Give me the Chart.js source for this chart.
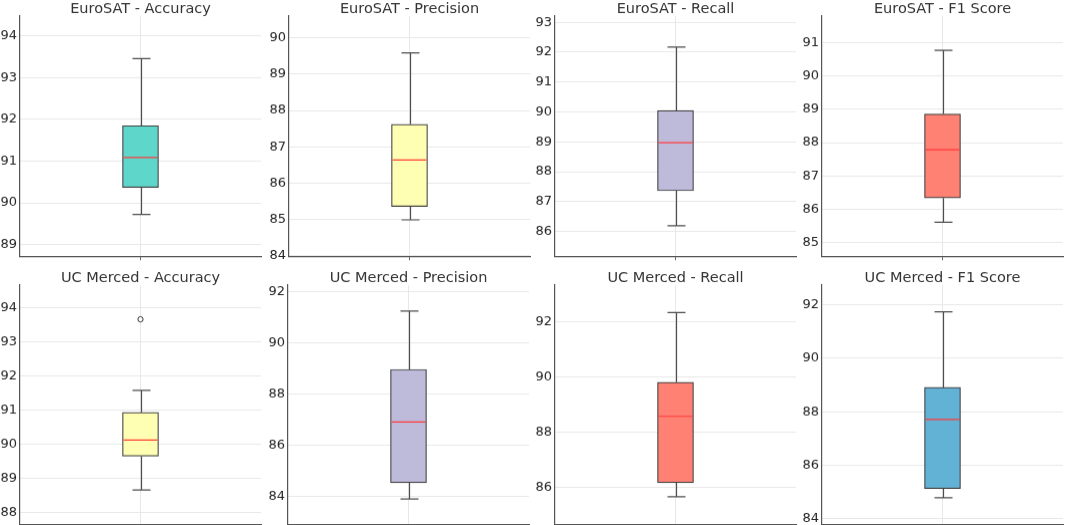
<!DOCTYPE html>
<html><head><meta charset="utf-8">
<script src="https://cdn.jsdelivr.net/npm/chart.js@4.4.0/dist/chart.umd.min.js"></script>
<style>
html,body{margin:0;padding:0;background:#fff;overflow:hidden;width:1065px;height:525px;}
canvas{position:absolute;}
</style></head><body>
<script>
const panelTitles = ['EuroSAT - Accuracy','EuroSAT - Precision','EuroSAT - Recall','EuroSAT - F1 Score',
  'UC Merced - Accuracy','UC Merced - Precision','UC Merced - Recall','UC Merced - F1 Score'];
const whiskerLow  = [89.72, 84.99, 86.19, 85.61, 88.66, 83.91, 85.65, 84.79];
const quartile1   = [90.37, 85.36, 87.36, 86.34, 89.65, 84.55, 86.16, 85.13];
const medians     = [91.09, 86.64, 88.97, 87.79, 90.12, 86.92, 88.57, 87.71];
const quartile3   = [91.85, 87.62, 90.05, 88.86, 90.93, 88.97, 89.81, 88.91];
const whiskerHigh = [93.46, 89.59, 92.17, 90.77, 91.57, 91.25, 92.34, 91.73];
const outliers    = [[], [], [], [], [93.65], [], [], []];
const axisMin = [88.72, 83.99, 85.17, 84.59, 87.66, 82.93, 84.65, 83.80];
const axisMax = [94.48, 90.60, 93.21, 91.80, 94.65, 92.26, 93.34, 92.73];
const yTickValues = [
  [89,90,91,92,93,94],
  [84,85,86,87,88,89,90],
  [86,87,88,89,90,91,92,93],
  [85,86,87,88,89,90,91],
  [88,89,90,91,92,93,94],
  [84,86,88,90,92],
  [86,88,90,92],
  [84,86,88,90,92]
];
const boxColors = ['#5ed6c9','#ffffb3','#bebada','#ff8173','#ffffb3','#bebada','#ff8173','#62b2d6'];

// layout (not data): target plot-area rectangles
const plotLefts = [20, 289, 555, 822, 20, 288, 555, 822];
const plotWidth = 241;
const plotTops = [16, 285];
const plotBottoms = [255, 523];
const yAxisW = 20, xAxisH = 8;

const boxPlugin = {
  id: 'boxWhiskers',
  afterDatasetsDraw(chart) {
    const i = chart.options.plugins.boxWhiskers.idx;
    const y = chart.scales.y;
    const bar = chart.getDatasetMeta(0).data[0];
    const cx = Math.round(bar.x) + 0.5, hw = bar.width / 2, cap = hw / 2;
    const ctx = chart.ctx;
    const yMin = y.getPixelForValue(whiskerLow[i]);
    const yQ1 = y.getPixelForValue(quartile1[i]);
    const yMed = y.getPixelForValue(medians[i]);
    const yQ3 = y.getPixelForValue(quartile3[i]);
    const yMax = y.getPixelForValue(whiskerHigh[i]);
    ctx.save();
    ctx.strokeStyle = '#4d4d4d'; ctx.lineWidth = 1.2;
    ctx.beginPath();
    ctx.moveTo(cx, yQ1); ctx.lineTo(cx, yMin);
    ctx.moveTo(cx - cap, yMin); ctx.lineTo(cx + cap, yMin);
    ctx.moveTo(cx, yQ3); ctx.lineTo(cx, yMax);
    ctx.moveTo(cx - cap, yMax); ctx.lineTo(cx + cap, yMax);
    ctx.stroke();
    ctx.strokeStyle = '#ff3b3b'; ctx.lineWidth = 1.2;
    ctx.beginPath();
    ctx.moveTo(bar.x - hw + 1, yMed); ctx.lineTo(bar.x + hw - 1, yMed);
    ctx.stroke();
    ctx.restore();
  }
};

function makeConfig(i) {
  return {
    type: 'bar',
    data: {
      labels: ['box'],
      datasets: [
        {
          type: 'bar',
          data: [[quartile1[i], quartile3[i]]],
          backgroundColor: boxColors[i],
          borderColor: '#404040',
          borderWidth: 1.2,
          borderSkipped: false,
          barThickness: 36
        },
        {
          type: 'line',
          data: outliers[i].map(v => ({x: 'box', y: v})),
          showLine: false,
          pointRadius: 2.6,
          pointBackgroundColor: '#ffffff',
          pointBorderColor: '#333333',
          pointBorderWidth: 1
        }
      ]
    },
    options: {
      responsive: false,
      maintainAspectRatio: false,
      animation: false,
      devicePixelRatio: 1,
      layout: {padding: {left: 0, right: 1, top: 0, bottom: 0}},
      plugins: {
        legend: {display: false},
        tooltip: {enabled: false},
        title: {
          display: true,
          text: panelTitles[i],
          fullSize: false,
          color: '#333333',
          font: {family: 'DejaVu Sans', size: 14.5, weight: 'normal', lineHeight: 1.0},
          padding: {top: 1.5, bottom: 0}
        },
        boxWhiskers: {idx: i}
      },
      scales: {
        x: {
          type: 'category',
          offset: true,
          grid: {display: true, offset: false, color: '#e8e8e8', lineWidth: 1, drawTicks: true, tickLength: 4, tickColor: '#666'},
          border: {display: true, color: '#555', width: 1.2},
          ticks: {display: false},
          afterFit(s) { s.height = xAxisH; }
        },
        y: {
          type: 'linear',
          min: axisMin[i],
          max: axisMax[i],
          afterBuildTicks(s) { s.ticks = yTickValues[i].map(v => ({value: v})); },
          grid: {display: true, color: '#e8e8e8', lineWidth: 1, drawTicks: false},
          border: {display: true, color: '#555', width: 1.2},
          ticks: {
            padding: 3,
            color: '#262626',
            font: {family: 'DejaVu Sans', size: 13},
            callback: v => String(v)
          },
          afterFit(s) { s.width = yAxisW; }
        }
      }
    },
    plugins: [boxPlugin]
  };
}

function place(cv, left, top, w, h) {
  cv.width = w; cv.height = h;
  cv.style.left = left + 'px'; cv.style.top = top + 'px';
  cv.style.width = w + 'px'; cv.style.height = h + 'px';
}

for (let i = 0; i < 8; i++) {
  const row = i < 4 ? 0 : 1;
  const tL = plotLefts[i], tT = plotTops[row];
  const tW = plotWidth, tH = plotBottoms[row] - plotTops[row];
  const cv = document.createElement('canvas');
  document.body.appendChild(cv);
  let left = tL - yAxisW, top = tT - 16, w = yAxisW + tW + 1, h = 16 + tH + xAxisH;
  for (let pass = 0; pass < 3; pass++) {
    place(cv, left, top, w, h);
    const chart = new Chart(cv, makeConfig(i));
    const ca = chart.chartArea;
    const dW = tW - (ca.right - ca.left);
    const dH = tH - (ca.bottom - ca.top);
    const dx = tL - (left + ca.left);
    const dy = tT - (top + ca.top);
    if (pass === 2 || (Math.abs(dW) < 0.01 && Math.abs(dH) < 0.01 && Math.abs(dx) < 0.01 && Math.abs(dy) < 0.01)) break;
    chart.destroy();
    left += dx; top += dy; w += dW; h += dH;
  }
}
</script>
</body></html>
